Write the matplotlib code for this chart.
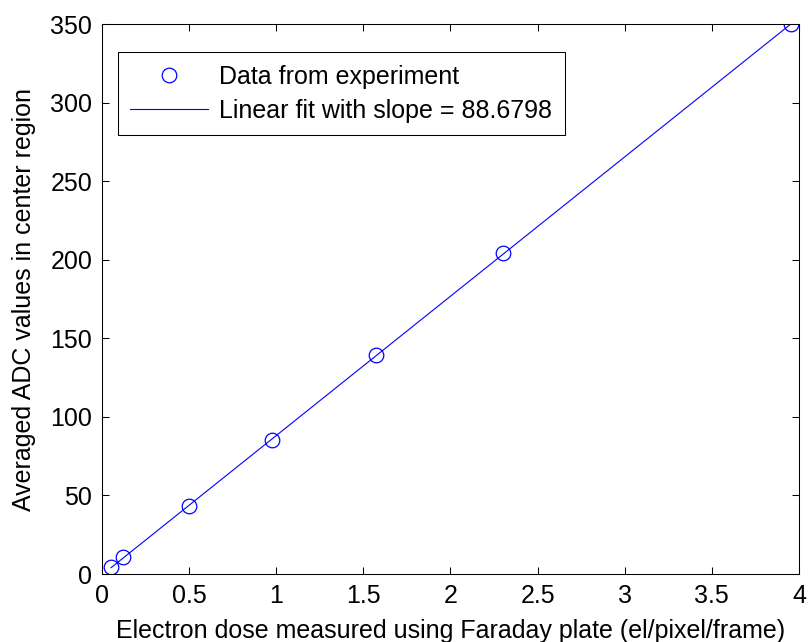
import matplotlib
matplotlib.use("Agg")
import matplotlib.pyplot as plt
import numpy as np

# measured points
dose = np.array([0.052, 0.119, 0.499, 0.976, 1.572, 2.301, 3.954])
adc = np.array([4.5, 10.6, 43.3, 85.3, 139.4, 204.3, 350.0])

# linear fit reported in the legend
slope = 88.6798
intercept = -0.6
fit_x = np.array([dose.min(), dose.max()])
fit_y = slope * fit_x + intercept

x_ticks = [0, 0.5, 1, 1.5, 2, 2.5, 3, 3.5, 4]
x_tick_labels = ["0", "0.5", "1", "1.5", "2", "2.5", "3", "3.5", "4"]
y_ticks = [0, 50, 100, 150, 200, 250, 300, 350]

plt.rcParams["font.family"] = ["Liberation Sans", "DejaVu Sans"]
plt.rcParams["font.size"] = 18

fig = plt.figure(figsize=(8.08, 6.42), dpi=100)
ax = fig.add_axes([0.1262, 0.1059, 0.8626, 0.8567])

ax.plot(dose, adc, "o", color="#0000ff", markerfacecolor="none",
        markersize=10.5, markeredgewidth=0.9, label="Data from experiment")
ax.plot(fit_x, fit_y, "-", color="#0000ff", linewidth=0.8,
        label="Linear fit with slope = 88.6798")

ax.set_xlim(0, 4)
ax.set_ylim(0, 350)
ax.set_xticks(x_ticks)
ax.set_xticklabels(x_tick_labels)
ax.set_yticks(y_ticks)
ax.tick_params(direction="in", length=5, width=0.75, top=True, right=True,
               labelsize=18, pad=7)
for s in ax.spines.values():
    s.set_linewidth(0.75)

ax.set_xlabel("Electron dose measured using Faraday plate (el/pixel/frame)",
              labelpad=8)
ax.set_ylabel("Averaged ADC values in center region", labelpad=10)

leg = ax.legend(loc="upper left", bbox_to_anchor=(0.146, 0.919),
                bbox_transform=fig.transFigure, borderaxespad=0,
                fancybox=False, edgecolor="black", framealpha=1,
                handlelength=3.1, handletextpad=0.45, borderpad=0.5,
                labelspacing=0.4)
leg.get_frame().set_linewidth(0.75)

fig.savefig("out.png", dpi=100)
